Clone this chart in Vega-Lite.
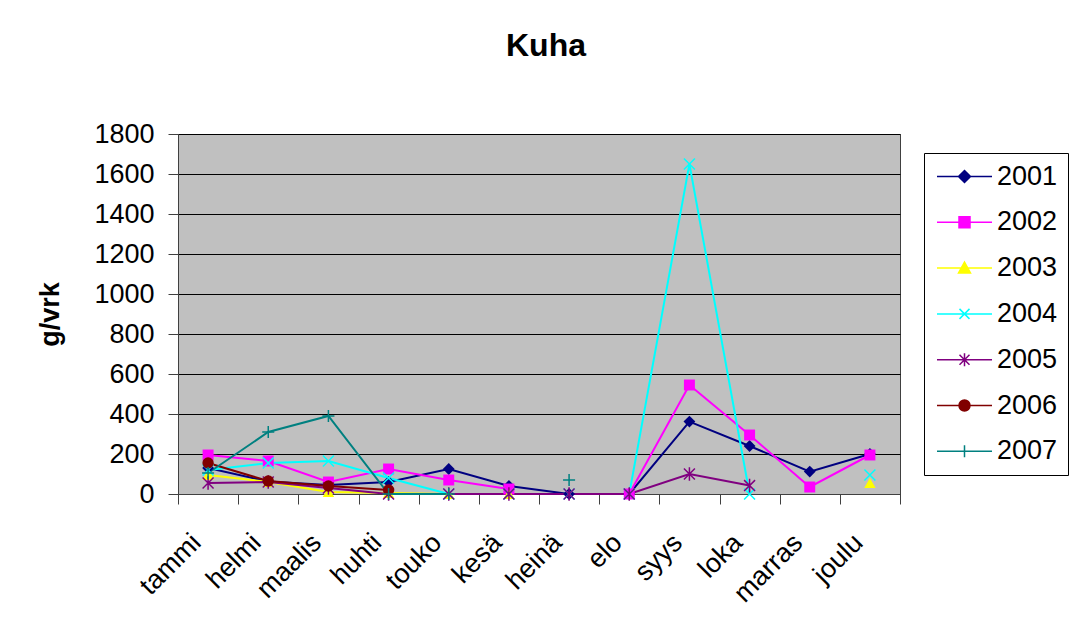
{
  "$schema": "https://vega.github.io/schema/vega-lite/v6.json",
  "width": 722,
  "height": 360,
  "autosize": {"type": "none"},
  "padding": {"left": 178, "top": 134, "right": 174, "bottom": 143},
  "background": "white",
  "title": {"text": "Kuha", "fontSize": 32, "fontWeight": "bold", "font": "Liberation Sans", "color": "black", "anchor": "middle", "frame": "group", "dx": 7, "offset": 32, "baseline": "alphabetic"},
  "config": {
    "font": "Liberation Sans",
    "view": {"fill": "#C0C0C0", "stroke": "#404040", "strokeWidth": 1}
  },
  "data": {"values": [
    {"month": "tammi", "year": "2001", "v": 130},
    {"month": "helmi", "year": "2001", "v": 62},
    {"month": "maalis", "year": "2001", "v": 45},
    {"month": "huhti", "year": "2001", "v": 60},
    {"month": "touko", "year": "2001", "v": 125},
    {"month": "kesä", "year": "2001", "v": 40},
    {"month": "heinä", "year": "2001", "v": 0},
    {"month": "elo", "year": "2001", "v": 0},
    {"month": "syys", "year": "2001", "v": 362},
    {"month": "loka", "year": "2001", "v": 240},
    {"month": "marras", "year": "2001", "v": 112},
    {"month": "joulu", "year": "2001", "v": 200},
    {"month": "tammi", "year": "2002", "v": 195},
    {"month": "helmi", "year": "2002", "v": 165},
    {"month": "maalis", "year": "2002", "v": 60},
    {"month": "huhti", "year": "2002", "v": 125},
    {"month": "touko", "year": "2002", "v": 70},
    {"month": "kesä", "year": "2002", "v": 25},
    {"month": "heinä", "year": "2002", "v": null},
    {"month": "elo", "year": "2002", "v": 0},
    {"month": "syys", "year": "2002", "v": 545},
    {"month": "loka", "year": "2002", "v": 295},
    {"month": "marras", "year": "2002", "v": 35},
    {"month": "joulu", "year": "2002", "v": 195},
    {"month": "tammi", "year": "2003", "v": 95},
    {"month": "helmi", "year": "2003", "v": 60},
    {"month": "maalis", "year": "2003", "v": 10},
    {"month": "huhti", "year": "2003", "v": 5},
    {"month": "touko", "year": "2003", "v": 0},
    {"month": "kesä", "year": "2003", "v": 0},
    {"month": "heinä", "year": "2003", "v": null},
    {"month": "elo", "year": "2003", "v": null},
    {"month": "syys", "year": "2003", "v": null},
    {"month": "loka", "year": "2003", "v": null},
    {"month": "marras", "year": "2003", "v": null},
    {"month": "joulu", "year": "2003", "v": 55},
    {"month": "tammi", "year": "2004", "v": 120},
    {"month": "helmi", "year": "2004", "v": 155},
    {"month": "maalis", "year": "2004", "v": 165},
    {"month": "huhti", "year": "2004", "v": 80},
    {"month": "touko", "year": "2004", "v": 0},
    {"month": "kesä", "year": "2004", "v": 0},
    {"month": "heinä", "year": "2004", "v": 0},
    {"month": "elo", "year": "2004", "v": 0},
    {"month": "syys", "year": "2004", "v": 1650},
    {"month": "loka", "year": "2004", "v": 0},
    {"month": "marras", "year": "2004", "v": null},
    {"month": "joulu", "year": "2004", "v": 95},
    {"month": "tammi", "year": "2005", "v": 55},
    {"month": "helmi", "year": "2005", "v": 60},
    {"month": "maalis", "year": "2005", "v": 30},
    {"month": "huhti", "year": "2005", "v": 0},
    {"month": "touko", "year": "2005", "v": 0},
    {"month": "kesä", "year": "2005", "v": 0},
    {"month": "heinä", "year": "2005", "v": 0},
    {"month": "elo", "year": "2005", "v": 0},
    {"month": "syys", "year": "2005", "v": 100},
    {"month": "loka", "year": "2005", "v": 42},
    {"month": "tammi", "year": "2006", "v": 155},
    {"month": "helmi", "year": "2006", "v": 65},
    {"month": "maalis", "year": "2006", "v": 40},
    {"month": "huhti", "year": "2006", "v": 20},
    {"month": "tammi", "year": "2007", "v": 105},
    {"month": "helmi", "year": "2007", "v": 310},
    {"month": "maalis", "year": "2007", "v": 390},
    {"month": "huhti", "year": "2007", "v": 0},
    {"month": "touko", "year": "2007", "v": 0},
    {"month": "kesä", "year": "2007", "v": null},
    {"month": "heinä", "year": "2007", "v": 70}
  ]},
  "encoding": {
    "x": {
      "field": "month", "type": "nominal",
      "sort": ["tammi", "helmi", "maalis", "huhti", "touko", "kesä", "heinä", "elo", "syys", "loka", "marras", "joulu"],
      "scale": {"type": "band", "domain": ["tammi", "helmi", "maalis", "huhti", "touko", "kesä", "heinä", "elo", "syys", "loka", "marras", "joulu"], "paddingInner": 0, "paddingOuter": 0},
      "axis": {"title": null, "labelAngle": -45, "labelFontSize": 27, "labelColor": "black", "tickBand": "extent", "tickSize": 10, "tickColor": "#404040", "domainColor": "#404040", "labelPadding": 25, "labelOffset": -21, "labelOverlap": false, "labelBound": false, "grid": false}
    },
    "y": {
      "field": "v", "type": "quantitative",
      "scale": {"domain": [0, 1800], "nice": false},
      "axis": {"title": "g/vrk", "format": "d", "values": [0, 200, 400, 600, 800, 1000, 1200, 1400, 1600, 1800], "grid": true, "gridColor": "#000000", "gridWidth": 1, "gridOpacity": 1, "tickSize": 10, "tickColor": "#404040", "domainColor": "#404040", "labelFontSize": 27, "labelColor": "black", "labelPadding": 14, "titleFontSize": 27, "titleFontWeight": "bold", "titleColor": "black", "titlePadding": 29}
    },
    "color": {
      "field": "year", "type": "nominal",
      "scale": {"domain": ["2001", "2002", "2003", "2004", "2005", "2006", "2007"], "range": ["#000080", "#FF00FF", "#FFFF00", "#00FFFF", "#800080", "#800000", "#008080"]},
      "legend": {
        "orient": "none", "legendX": 746, "legendY": 19, "title": null,
        "fillColor": "white", "strokeColor": "black", "padding": 10,
        "labelFontSize": 27, "labelColor": "black", "labelFont": "Liberation Sans",
        "symbolSize": 400, "symbolStrokeWidth": 1.5, "symbolOffset": 17, "labelOffset": 19, "rowPadding": 17.8,
        "encode": {"symbols": {"update": {
          "shape": {"signal": "datum.value == '2001' ? 'M-2.75,0L2.75,0M0,-0.6L0.6,0L0,0.6L-0.6,0Z' : datum.value == '2002' ? 'M-2.75,0L2.75,0M-0.55,-0.55L0.55,-0.55L0.55,0.55L-0.55,0.55Z' : datum.value == '2003' ? 'M-2.75,0L2.75,0M0,-0.6L0.6,0.5L-0.6,0.5Z' : datum.value == '2004' ? 'M-2.75,0L2.75,0M-0.5,-0.5L0.5,0.5M-0.5,0.5L0.5,-0.5' : datum.value == '2005' ? 'M-2.75,0L2.75,0M-0.5,-0.5L0.5,0.5M-0.5,0.5L0.5,-0.5M0,-0.65L0,0.65' : datum.value == '2006' ? 'M-2.75,0L2.75,0M-0.55,0A0.55,0.55,0,1,0,0.55,0A0.55,0.55,0,1,0,-0.55,0Z' : 'M-2.75,0L2.75,0M0,-0.6L0,0.6'"},
          "fill": {"scale": "color", "field": "value"},
          "stroke": {"scale": "color", "field": "value"},
          "strokeWidth": {"value": 1.5},
          "size": {"value": 400},
          "opacity": {"value": 1}
        }}}
      }
    }
  },
  "layer": [
    {"mark": {"type": "line", "strokeWidth": 2, "invalid": "break-paths-show-domains"}},
    {"transform": [{"filter": "datum.year == '2001'"}], "mark": {"type": "point", "shape": "diamond", "filled": true, "size": 140, "opacity": 1}},
    {"transform": [{"filter": "datum.year == '2002'"}], "mark": {"type": "point", "shape": "square", "filled": true, "size": 120, "opacity": 1}},
    {"transform": [{"filter": "datum.year == '2003'"}], "mark": {"type": "point", "shape": "triangle-up", "filled": true, "size": 130, "opacity": 1}},
    {"transform": [{"filter": "datum.year == '2004'"}], "mark": {"type": "point", "shape": "M-1,-1L1,1M-1,1L1,-1", "filled": false, "size": 120, "strokeWidth": 1.5, "opacity": 1}},
    {"transform": [{"filter": "datum.year == '2005'"}], "mark": {"type": "point", "shape": "M-1,-1L1,1M-1,1L1,-1M0,-1.25L0,1.25", "filled": false, "size": 120, "strokeWidth": 1.5, "opacity": 1}},
    {"transform": [{"filter": "datum.year == '2006'"}], "mark": {"type": "point", "shape": "circle", "filled": true, "size": 130, "opacity": 1}},
    {"transform": [{"filter": "datum.year == '2007'"}], "mark": {"type": "point", "shape": "M-1.1,0L1.1,0M0,-1.1L0,1.1", "filled": false, "size": 120, "strokeWidth": 1.5, "opacity": 1}}
  ]
}
